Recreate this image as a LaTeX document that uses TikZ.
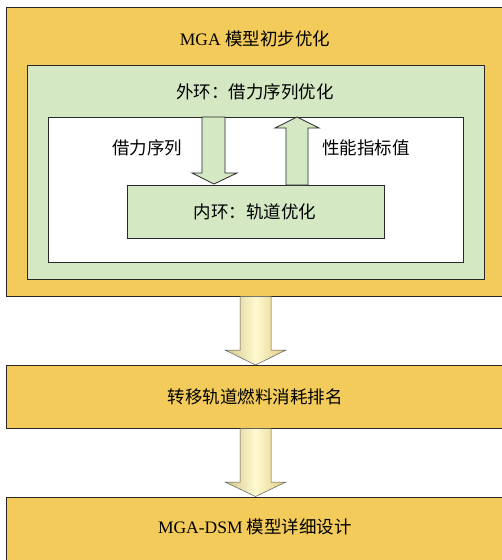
\documentclass[tikz,border=0pt]{standalone}
\usepackage{fontspec}
\setmainfont{Liberation Serif}
\newfontfamily\cjk{Noto Sans CJK SC}
\definecolor{gold}{RGB}{243,203,90}
\definecolor{lgreen}{RGB}{212,232,196}
\definecolor{edge}{RGB}{40,40,40}
\definecolor{ga}{RGB}{105,95,60}
\definecolor{gb}{RGB}{200,185,120}
\definecolor{gc}{RGB}{255,250,210}
\definecolor{gd}{RGB}{215,190,105}
\definecolor{ge}{RGB}{150,130,70}
\pgfdeclarehorizontalshading{goldarrow}{100bp}{color(0bp)=(ga); color(20bp)=(gb); color(50bp)=(gc); color(80bp)=(gd); color(100bp)=(ge)}
\begin{document}
\begin{tikzpicture}[x=1pt,y=-1pt,
  box/.style={draw=edge,line width=0.8pt,rectangle,inner sep=0pt},
  lbl/.style={font=\fontsize{17.5}{20}\selectfont,inner sep=0pt},
  garrow/.style={draw=edge,line width=0.8pt,fill=lgreen,line join=miter},
  yarrow/.style={draw=gray!70!black,line width=0.5pt,shading=goldarrow}]
\useasboundingbox (0,0) rectangle (502,560);
\clip (0,0) rectangle (502,560);
% top box
\node[box,fill=gold,minimum width=500pt,minimum height=289pt] (top) at (256,151.5) {};
\node[lbl] (toptxt) at (255,39) {MGA {\cjk 模型初步优化}};
\node[box,fill=lgreen,minimum width=457pt,minimum height=214pt] (outer) at (255.5,172) {};
\node[lbl] (outertxt) at (255,92) {\cjk 外环：借力序列优化};
\node[box,fill=white,minimum width=415pt,minimum height=145pt] (white) at (255.5,189.5) {};
\node[box,fill=lgreen,minimum width=257pt,minimum height=53pt] (inner) at (255.5,211.5) {};
\node[lbl] (innertxt) at (255,212) {\cjk 内环：轨道优化};
\node[lbl] (seq) at (147,148) {\cjk 借力序列};
\node[lbl] (perf) at (366,148) {\cjk 性能指标值};
% down arrow inside
\draw[garrow] (202,117) -- (225,117) -- (225,173) -- (237,173) -- (214,184) -- (192,173) -- (202,173) -- cycle;
% up arrow inside
\draw[garrow] (286,185) -- (286,128) -- (275,128) -- (297,117) -- (319,128) -- (308,128) -- (308,185) -- cycle;
% second and third boxes
\node[box,fill=gold,minimum width=500pt,minimum height=63pt] (rank) at (256,396.5) {};
\node[lbl] (ranktxt) at (255,397) {\cjk 转移轨道燃料消耗排名};
\node[box,fill=gold,minimum width=500pt,minimum height=73pt] (dsm) at (256,533.5) {};
\node[lbl] (dsmtxt) at (255,527) {MGA-DSM {\cjk 模型详细设计}};
% big arrows
\draw[yarrow] (240,296.4) -- (271,296.4) -- (271,350) -- (286,350) -- (255.5,365) -- (225,350) -- (240,350) -- cycle;
\draw[yarrow] (240,428.5) -- (271,428.5) -- (271,482) -- (286,482) -- (255.5,496.5) -- (225,482) -- (240,482) -- cycle;
\end{tikzpicture}
\end{document}
